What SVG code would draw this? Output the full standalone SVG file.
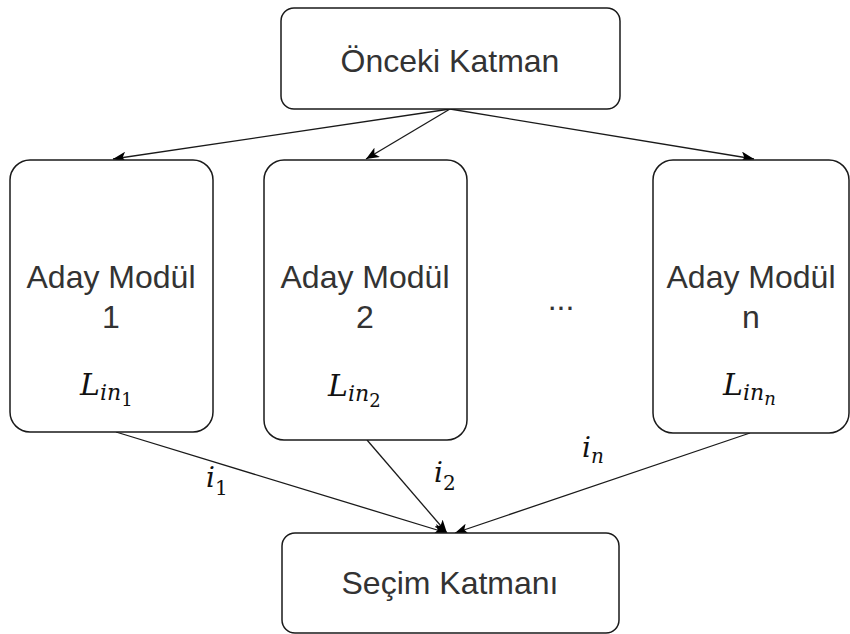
<svg xmlns="http://www.w3.org/2000/svg" width="850" height="634" viewBox="0 0 850 634">
  <style>
    .box { fill: #ffffff; stroke: #1a1a1a; stroke-width: 1.5; }
    .lbl { font-family: "Liberation Sans", Arial, sans-serif; font-size: 32px; fill: #333333; text-anchor: middle; }
    .math { font-family: "DejaVu Serif", "Liberation Serif", serif; fill: #111111; }
    .it { font-style: italic; }
    .edge { fill: none; stroke: #1a1a1a; stroke-width: 1.3; marker-end: url(#arrow); }
  </style>
  <defs>
    <marker id="arrow" viewBox="0 0 12 10" refX="12" refY="5" markerWidth="13" markerHeight="11" markerUnits="userSpaceOnUse" orient="auto">
      <path d="M0,0 L12,5 L0,10 L3,5 Z" fill="#000000"/>
    </marker>
  </defs>

  <rect width="850" height="634" fill="#ffffff"/>

  <!-- connectors -->
  <g id="edges">
    <line class="edge" x1="450" y1="109" x2="113" y2="159"/>
    <line class="edge" x1="450" y1="109" x2="366" y2="159"/>
    <line class="edge" x1="450" y1="109" x2="754" y2="159"/>
    <line class="edge" x1="116" y1="432" x2="447" y2="533"/>
    <line class="edge" x1="367" y1="440" x2="447" y2="533"/>
    <line class="edge" x1="750" y1="433" x2="455" y2="533"/>
  </g>

  <!-- edge labels -->
  <g id="edge-labels" class="math">
    <text x="206" y="487" font-size="28"><tspan class="it">i</tspan><tspan font-size="20" dy="8">1</tspan></text>
    <text x="434" y="482" font-size="28"><tspan class="it">i</tspan><tspan font-size="20" dy="8">2</tspan></text>
    <text x="582" y="457" font-size="28"><tspan class="it">i</tspan><tspan class="it" font-size="20" dy="6">n</tspan></text>
  </g>

  <g id="prev-layer">
    <rect class="box" x="281" y="8" width="339" height="101" rx="13"/>
    <text class="lbl" x="450" y="72">Önceki Katman</text>
  </g>

  <g id="module-1">
    <rect class="box" x="10" y="160" width="203" height="272" rx="20"/>
    <text class="lbl" x="111" y="288">Aday Modül</text>
    <text class="lbl" x="111" y="328">1</text>
    <text class="math" x="80" y="395" font-size="30"><tspan class="it">L</tspan><tspan class="it" font-size="22" dy="5">in</tspan><tspan font-size="18" dy="6">1</tspan></text>
  </g>

  <g id="module-2">
    <rect class="box" x="264" y="160" width="203" height="280" rx="20"/>
    <text class="lbl" x="365" y="288">Aday Modül</text>
    <text class="lbl" x="365" y="328">2</text>
    <text class="math" x="328" y="396" font-size="30"><tspan class="it">L</tspan><tspan class="it" font-size="22" dy="5">in</tspan><tspan font-size="18" dy="6">2</tspan></text>
  </g>

  <g id="ellipsis">
    <text class="lbl" x="561" y="310" font-size="26">...</text>
  </g>

  <g id="module-n">
    <rect class="box" x="653" y="160" width="196" height="273" rx="20"/>
    <text class="lbl" x="751" y="288">Aday Modül</text>
    <text class="lbl" x="751" y="328">n</text>
    <text class="math" x="723" y="395" font-size="30"><tspan class="it">L</tspan><tspan class="it" font-size="22" dy="5">in</tspan><tspan class="it" font-size="18" dy="5">n</tspan></text>
  </g>

  <g id="selection-layer">
    <rect class="box" x="282" y="533" width="337" height="100" rx="13"/>
    <text class="lbl" x="450" y="594">Seçim Katmanı</text>
  </g>
</svg>
